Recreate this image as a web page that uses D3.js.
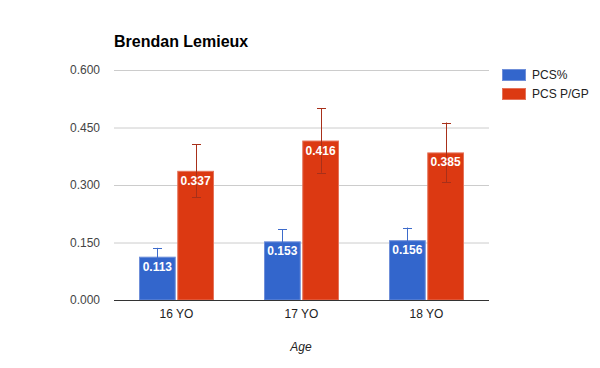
<!DOCTYPE html>
<html>
<head>
<meta charset="utf-8">
<script src="https://cdn.jsdelivr.net/npm/d3@7"></script>
<style>
  body { margin: 0; background: #fff; }
  text { font-family: "Liberation Sans", Arial, sans-serif; }
</style>
</head>
<body>
<div id="chart"></div>
<script>
var w = 600,
	h = 368;

// Data
var ages = ["16 YO", "17 YO", "18 YO"];
var seriesNames = ["PCS%", "PCS P/GP"];
var pcsPct = [0.113, 0.153, 0.156];
var pcsPerGp = [0.337, 0.416, 0.385];
var pcsPctErr = [0.023, 0.031, 0.033];
var pcsPerGpErr = [0.069, 0.084, 0.078];
var yTicks = [0, 0.15, 0.3, 0.45, 0.6];

var colors = ["#3366cc", "#dc3912"];
var edgeColors = ["#6f8fd9", "#e5735a"];
var errColors = ["#3d6bcb", "#a8301a"];

var rows = ages.map(function(a, i) {
	return {age: a, vals: [
		{s: 0, v: pcsPct[i], e: pcsPctErr[i]},
		{s: 1, v: pcsPerGp[i], e: pcsPerGpErr[i]}
	]};
});

var svg = d3.select("#chart").append("svg")
	.attr("width", w)
	.attr("height", h);

var x0 = d3.scaleBand().domain(ages).range([114, 489]).paddingInner(0.4).paddingOuter(0.2);
var x1 = d3.scaleBand().domain([0, 1]).range([0, x0.bandwidth()]).paddingInner(0.04);
var y = d3.scaleLinear().domain([0, 0.6]).range([300, 70]);

// Title
svg.append("text")
	.attr("x", 114)
	.attr("y", 47)
	.attr("font-size", "16px")
	.attr("font-weight", "bold")
	.attr("fill", "#000")
	.text("Brendan Lemieux");

// Gridlines + y labels
svg.selectAll(".grid")
	.data(yTicks.filter(function(t) { return t > 0; }))
	.enter().append("line")
	.attr("x1", 114).attr("x2", 489)
	.attr("y1", function(d) { return y(d) + 0.5; })
	.attr("y2", function(d) { return y(d) + 0.5; })
	.attr("stroke", "#cccccc");

svg.selectAll(".ylab")
	.data(yTicks)
	.enter().append("text")
	.attr("x", 100)
	.attr("y", function(d) { return y(d) + 4; })
	.attr("text-anchor", "end")
	.attr("font-size", "12px")
	.attr("fill", "#444")
	.text(function(d) { return d3.format(".3f")(d); });

// Bars
var groups = svg.selectAll(".grp")
	.data(rows)
	.enter().append("g")
	.attr("transform", function(d) { return "translate(" + x0(d.age) + ",0)"; });

groups.selectAll("rect")
	.data(function(d) { return d.vals; })
	.enter().append("rect")
	.attr("x", function(d) { return x1(d.s) + 0.5; })
	.attr("y", function(d) { return y(d.v) + 0.5; })
	.attr("width", function(d) { return x1.bandwidth() - 1; })
	.attr("height", function(d) { return y(0) - y(d.v) - 0.5; })
	.attr("fill", function(d) { return colors[d.s]; })
	.attr("stroke", function(d) { return edgeColors[d.s]; })
	.attr("stroke-width", 1);

// Error bars
var err = groups.selectAll(".err")
	.data(function(d) { return d.vals; })
	.enter().append("g")
	.attr("stroke", function(d) { return errColors[d.s]; })
	.attr("stroke-width", 1);

err.append("line")
	.attr("x1", function(d) { return Math.round(x1(d.s) + x1.bandwidth() / 2) + 0.5; })
	.attr("x2", function(d) { return Math.round(x1(d.s) + x1.bandwidth() / 2) + 0.5; })
	.attr("y1", function(d) { return y(d.v + d.e); })
	.attr("y2", function(d) { return y(d.v - d.e); });

[1, -1].forEach(function(sign) {
	err.append("line")
		.attr("x1", function(d) { return Math.round(x1(d.s) + x1.bandwidth() / 2) - 4; })
		.attr("x2", function(d) { return Math.round(x1(d.s) + x1.bandwidth() / 2) + 5; })
		.attr("y1", function(d) { return Math.round(y(d.v + sign * d.e)) + 0.5; })
		.attr("y2", function(d) { return Math.round(y(d.v + sign * d.e)) + 0.5; });
});

// Value labels
groups.selectAll(".val")
	.data(function(d) { return d.vals; })
	.enter().append("text")
	.attr("x", function(d) { return x1(d.s) + x1.bandwidth() / 2; })
	.attr("y", function(d) { return y(d.v) + 14; })
	.attr("text-anchor", "middle")
	.attr("font-size", "12px")
	.attr("font-weight", "bold")
	.attr("fill", "#fff")
	.text(function(d) { return d3.format(".3f")(d.v); });

// Baseline
svg.append("line")
	.attr("x1", 114).attr("x2", 489)
	.attr("y1", y(0) + 0.5).attr("y2", y(0) + 0.5)
	.attr("stroke", "#333");

// X labels
svg.selectAll(".xlab")
	.data(ages)
	.enter().append("text")
	.attr("x", function(d) { return x0(d) + x0.bandwidth() / 2; })
	.attr("y", 318)
	.attr("text-anchor", "middle")
	.attr("font-size", "12px")
	.attr("fill", "#222")
	.text(function(d) { return d; });

svg.append("text")
	.attr("x", 301)
	.attr("y", 351)
	.attr("text-anchor", "middle")
	.attr("font-size", "12px")
	.attr("font-style", "italic")
	.attr("fill", "#222")
	.text("Age");

// Legend
var legend = svg.append("g").attr("transform", "translate(502,69)");
legend.selectAll("rect")
	.data(seriesNames)
	.enter().append("rect")
	.attr("x", 0.5)
	.attr("y", function(d, i) { return i * 19 + 0.5; })
	.attr("width", 23)
	.attr("height", 11)
	.attr("fill", function(d, i) { return colors[i]; })
	.attr("stroke", function(d, i) { return edgeColors[i]; });
legend.selectAll("text")
	.data(seriesNames)
	.enter().append("text")
	.attr("x", 30)
	.attr("y", function(d, i) { return i * 19 + 10; })
	.attr("font-size", "12px")
	.attr("fill", "#222")
	.text(function(d) { return d; });
</script>
</body>
</html>
